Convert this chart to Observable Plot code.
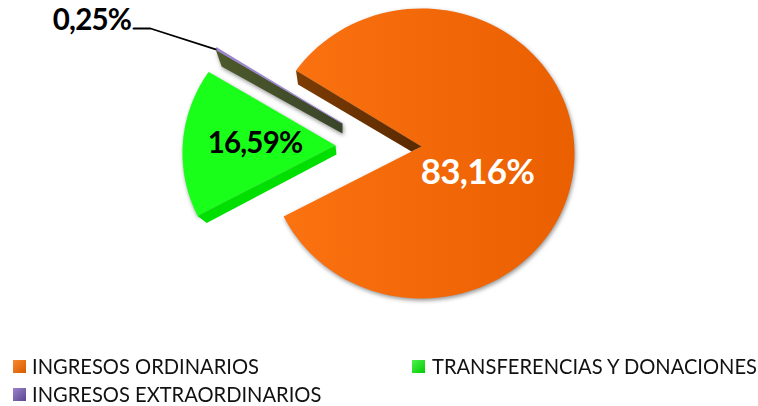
<!DOCTYPE html>
<html>
<head>
<meta charset="utf-8">
<script src="https://cdn.jsdelivr.net/npm/d3@7"></script>
<script src="https://cdn.jsdelivr.net/npm/@observablehq/plot@0.6"></script>
<style>
html,body{margin:0;padding:0;background:#fff;}
#wrap{position:relative;width:758px;height:406px;overflow:hidden;font-family:Lato,sans-serif;}
.lg{position:absolute;font-size:21.5px;line-height:24px;color:#111;white-space:nowrap;transform-origin:0 50%;transform:scaleX(.936);}
.sw{position:absolute;width:13px;height:13px;}
</style>
</head>
<body>
<div id="wrap"></div>
<script>
const categories = ["INGRESOS ORDINARIOS", "TRANSFERENCIAS Y DONACIONES", "INGRESOS EXTRAORDINARIOS"];
const values = [83.16, 16.59, 0.25];
const labels = ["83,16%", "16,59%", "0,25%"];

// drawing geometry of the exploded pie
const W = 758, H = 350, RX = 153, RY = 145, START = 214.9;
const hubs = [[421, 146], [335, 145], [342, 123]];
const drop = [[2, 14], [9, 7], [6, 17]];
const hubDrop = [[-10, 5], [1, 9], [0, 10]];
const arcShift = [7, 7.5, 7];

const total = d3.sum(values);
let a = START;
const slices = values.map((v, i) => {
  const a0 = a, a1 = a + v / total * 360; a = a1;
  const [hx, hy] = hubs[i];
  const pt = t => [hx + RX * Math.cos(t * Math.PI / 180), hy + arcShift[i] + RY * Math.sin(t * Math.PI / 180)];
  const arc = d3.range(0, 1.0001, 1 / 120).map(u => pt(a0 + (a1 - a0) * u));
  const p = arc[0];
  const wall = [p, [hx, hy], [hx + hubDrop[i][0], hy + hubDrop[i][1]], [p[0] + drop[i][0], p[1] + drop[i][1]]];
  return {surface: [[hx, hy], ...arc], wall};
});

const grad = (id, c0, c1, x2 = "100%", y2 = "0%") =>
  `<linearGradient id="${id}" x1="0%" y1="0%" x2="${x2}" y2="${y2}"><stop offset="0" stop-color="${c0}"/><stop offset="1" stop-color="${c1}"/></linearGradient>`;
const defs = () => {
  const s = d3.create("svg:defs");
  s.html(grad("gO", "#fb7211", "#ea5f00") + grad("gW", "#7d3c04", "#5a2a00") +
         grad("gP", "#4d5a2a", "#39452a"));
  return s.node();
};

const poly = (pts, opts) => Plot.line(pts, {x: d => d[0], y: d => d[1], stroke: "none", ...opts});
const shadow = "drop-shadow(1px 2px 2px rgba(60,60,60,.55))";

const chart = Plot.plot({
  width: W, height: H, margin: 0,
  x: {domain: [0, W], range: [0, W], axis: null},
  y: {domain: [0, H], range: [0, H], axis: null},
  style: {background: "transparent", overflow: "visible", letterSpacing: "-0.8px"},
  marks: [
    defs,
    poly(slices[0].surface, {fill: "url(#gO)", imageFilter: shadow}),
    poly(slices[0].wall, {fill: "url(#gW)"}),
    poly(slices[1].surface, {fill: "#1aff1a", imageFilter: shadow}),
    poly(slices[1].wall, {fill: "#00e000"}),
    poly(slices[2].wall, {fill: "url(#gP)", imageFilter: shadow}),
    poly(slices[2].surface, {fill: "#9b84cc", stroke: "#9b84cc", strokeWidth: 1}),
    Plot.line([[133, 28], [150, 28], slices[2].surface[1]], {x: d => d[0], y: d => d[1], stroke: "#000", strokeWidth: 1.8}),
    Plot.text([labels[0]], {x: 477, y: 172, text: d => d, fill: "#fff", fontSize: 35, fontWeight: 700, fontFamily: "Lato"}),
    Plot.text([labels[1]], {x: 254.5, y: 143, text: d => d, fill: "#000", fontSize: 29.5, fontWeight: 700, fontFamily: "Lato"}),
    Plot.text([labels[2]], {x: 91.5, y: 20, text: d => d, fill: "#000", fontSize: 29.5, fontWeight: 700, fontFamily: "Lato"})
  ]
});
const wrap = document.getElementById("wrap");
chart.style.position = "absolute"; chart.style.left = "0"; chart.style.top = "0";
wrap.appendChild(chart);

const swatches = ["linear-gradient(135deg,#f58a30,#d95a00)", "linear-gradient(135deg,#50f050,#00cc00)", "linear-gradient(135deg,#9b84cc,#5a4590)"];
const legendPos = [[13, 32, 366], [412, 432, 366], [13, 32, 394]];
categories.forEach((c, i) => {
  const [sx, tx, cy] = legendPos[i];
  const sw = document.createElement("div");
  sw.className = "sw"; sw.style.left = sx + "px"; sw.style.top = (cy - 6) + "px"; sw.style.background = swatches[i];
  const t = document.createElement("div");
  t.className = "lg"; t.textContent = c; t.style.left = tx + "px"; t.style.top = (cy - 12) + "px";
  wrap.append(sw, t);
});
</script>
</body>
</html>
